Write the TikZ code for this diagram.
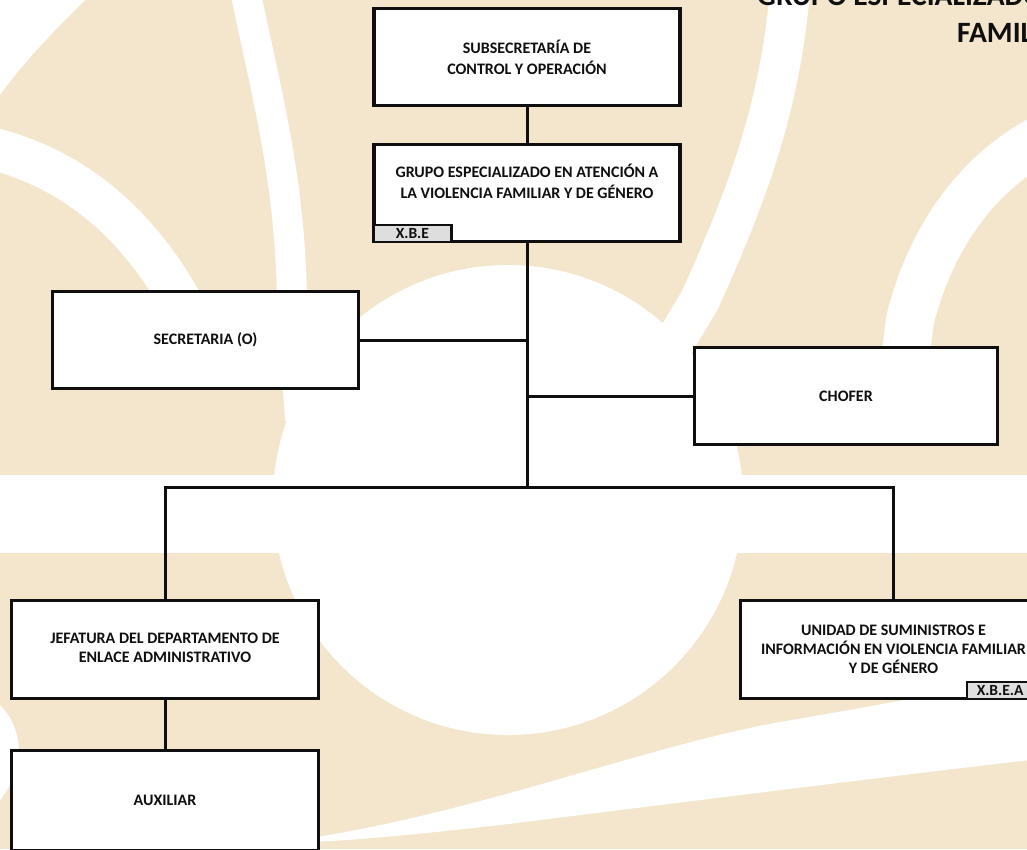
\documentclass[tikz,border=0pt]{standalone}
\usepackage{fontspec}
\setmainfont{Carlito}
\definecolor{cream}{RGB}{244,230,205}
\definecolor{tabgray}{RGB}{222,222,222}
\definecolor{ink}{RGB}{15,15,15}
\tikzset{
  orgbox/.style={draw=ink, line width=3.4pt, fill=white, rectangle, inner sep=0pt,
    minimum width=306pt, minimum height=97pt, align=center,
    font=\fontsize{16}{21}\selectfont\bfseries, text=ink},
  tabbox/.style={draw=ink, line width=2.2pt, fill=tabgray, rectangle, inner sep=0pt,
    minimum height=17pt, font=\fontsize{15.5}{15.5}\selectfont\bfseries, text=ink},
  conn/.style={draw=ink, line width=3pt},
  whiteband/.style={draw=white},
  titletext/.style={font=\fontsize{29.5}{35}\selectfont\bfseries, text=ink, inner sep=0pt, anchor=base west}
}
\begin{document}
\begin{tikzpicture}[x=1pt,y=-1pt]
\useasboundingbox (0,0) rectangle (1027,849);
\begin{scope}
\clip (0,0) rectangle (1027,849);
% background watermark
\fill[cream] (0,0) rectangle (1027,849);
\fill[white] (508,500) circle[radius=235pt];
\fill[white] (0,475) rectangle (1027,553);
\fill[white] (0,0) -- (85,0) .. controls (55,30) and (25,60) .. (0,95) -- cycle;
\draw[whiteband, line width=30pt] (245,-10) .. controls (268,100) and (290,180) .. (292,300) -- (300,420);
\draw[whiteband, line width=42pt] (-10,148) .. controls (80,170) and (140,230) .. (180,300) -- (215,380);
\draw[whiteband, line width=40pt] (790,-10) .. controls (780,110) and (745,200) .. (700,300) -- (670,350);
\draw[whiteband, line width=48pt] (1040,140) .. controls (975,175) and (930,240) .. (910,320) -- (900,400);
\fill[white] (310,838) .. controls (480,812) and (650,745) .. (780,722) .. controls (880,705) and (960,690) .. (1030,675)
  -- (1030,760) .. controls (900,775) and (700,800) .. (500,825) .. controls (420,834) and (360,840) .. (310,842) -- cycle;
\fill[white] (0,705) .. controls (25,730) and (25,770) .. (0,800) -- cycle;

% title
\node[titletext] (title1) at (757,5) {GRUPO ESPECIALIZADO EN ATENCIÓN A LA VIOLENCIA};
\node[titletext] (title2) at (957,42) {FAMILIAR Y DE GÉNERO};

% boxes
\node[orgbox] (sub) at (527,57) {SUBSECRETARÍA DE\\CONTROL Y OPERACIÓN};
\node[orgbox] (grupo) at (527,193) {GRUPO ESPECIALIZADO EN ATENCIÓN A\\LA VIOLENCIA FAMILIAR Y DE GÉNERO\\[2pt]\mbox{}};
\node[orgbox] (secre) at (205.5,340) {SECRETARIA (O)};
\node[orgbox, minimum width=303pt] (chofer) at (846,396) {CHOFER};
\node[orgbox, minimum width=307pt, minimum height=98pt, font=\fontsize{16}{19}\selectfont\bfseries] (jefa) at (165,649.5) {\mbox{}\\[-11pt]JEFATURA DEL DEPARTAMENTO DE\\ENLACE ADMINISTRATIVO};
\node[orgbox, minimum width=307pt, minimum height=100pt] (aux) at (165,800.5) {AUXILIAR};
\node[orgbox, minimum height=98pt, font=\fontsize{16}{19}\selectfont\bfseries] (unidad) at (893.5,649.5) {UNIDAD DE SUMINISTROS E\\INFORMACIÓN EN VIOLENCIA FAMILIAR\\Y DE GÉNERO};

% tabs
\node[tabbox, minimum width=78pt, anchor=south west] (xbe) at (grupo.south west) {X.B.E};
\node[tabbox, minimum width=66pt, anchor=south west] (xbea) at (unidad.south -| 966,0) {X.B.E.A};

% connectors
\coordinate (bus) at (527,487);
\draw[conn] (sub.south) -- (grupo.north);
\draw[conn] (grupo.south) -- (bus);
\draw[conn] (secre.east) -- (secre.east -| bus);
\draw[conn] (chofer.west -| bus) -- (chofer.west);
\draw[conn] (jefa.north) |- (bus);
\draw[conn] (unidad.north) |- (bus);
\draw[conn] (jefa.south) -- (aux.north);
\end{scope}
\end{tikzpicture}
\end{document}
